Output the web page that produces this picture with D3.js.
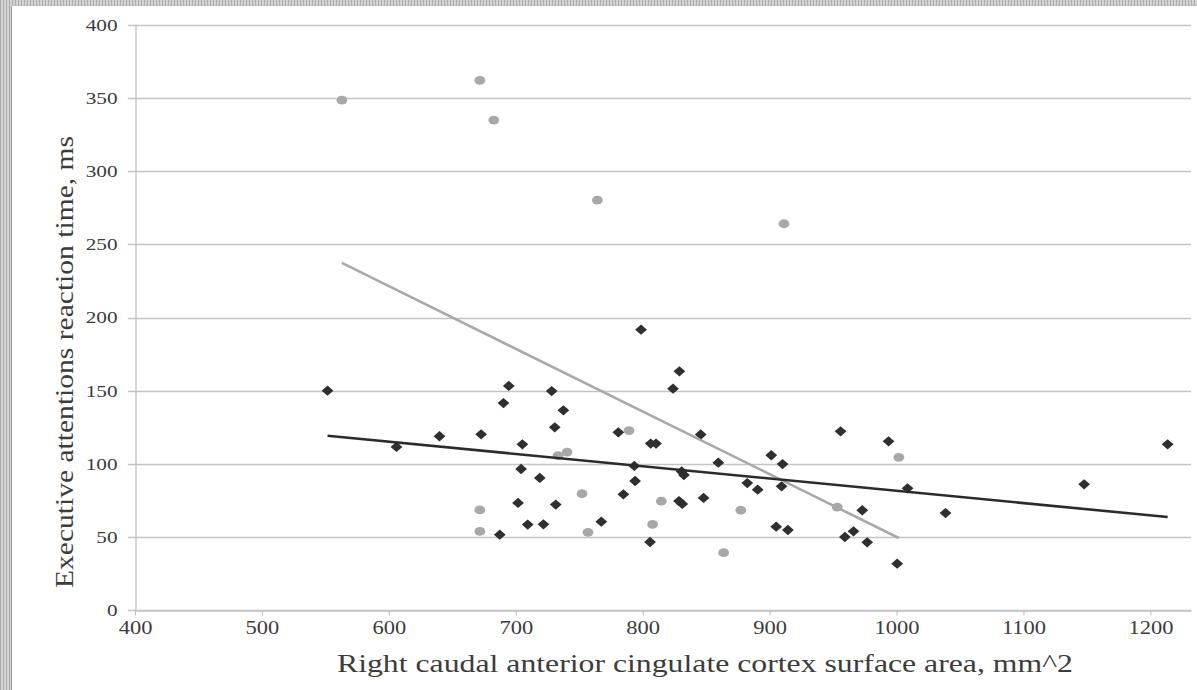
<!DOCTYPE html>
<html>
<head>
<meta charset="utf-8">
<script src="https://cdn.jsdelivr.net/npm/d3@7"></script>
<style>
  body { margin: 0; background: #fff; }
  text { font-family: "Liberation Serif", "Times New Roman", serif; fill: #3c3c3c; }
</style>
</head>
<body>
<div id="wrapper"></div>
<script>
// dark diamonds
const darkX = [551.7, 606, 639.9, 672.7, 687.4, 690.3, 694.5, 701.8, 704.2, 705.2, 709.4, 718.9, 721.8, 728.3, 730.7, 731.5, 737.5,
  767.4, 780.8, 784.8, 793.4, 794, 798.7, 805.8, 806.3, 810.5, 823.9, 828.6, 828.9, 830.7, 831.2, 832.5, 845.7, 848, 859.6,
  882.4, 890.6, 901.3, 905.2, 909.4, 910.2, 914.4, 955.9, 959.3, 966.1, 973, 976.9, 993.7, 1000.5, 1008.7, 1038.6, 1147.8, 1213.6];
const darkY = [150, 111.5, 118.8, 120.1, 51.5, 141.5, 153.2, 73.2, 96.4, 113.3, 58.4, 90.3, 58.6, 149.7, 124.9, 72.1, 136.5,
  60.4, 121.5, 79.1, 98.5, 88.2, 191.7, 46.5, 113.8, 113.8, 151.3, 74.5, 163.2, 94.7, 72.5, 92.3, 120, 76.6, 100.7,
  86.8, 82.3, 105.8, 57, 84.6, 99.8, 54.7, 122.2, 49.9, 53.8, 68.2, 46.3, 115.3, 31.7, 83.2, 66.3, 85.9, 113.3];
// light circles
const lightX = [563, 671.7, 671.7, 671.7, 682.7, 733.3, 740.4, 752.2, 756.9, 764.3, 789.2, 807.8, 814.7, 863.8, 877.3, 911.3, 953.3, 1001.8];
const lightY = [348.7, 362.2, 68.4, 53.8, 335, 105.5, 108, 79.5, 53.1, 280.3, 122.7, 58.5, 74.4, 39.2, 68.2, 264.1, 70.4, 104.4];
// trendlines: [intercept, slope]
const darkTrend = [165.5, -0.084];
const lightTrend = [478.7, -0.4287];

const xTicks = [400, 500, 600, 700, 800, 900, 1000, 1100, 1200];
const yTicks = [0, 50, 100, 150, 200, 250, 300, 350, 400];
const xTitle = "Right caudal anterior cingulate cortex surface area, mm^2";
const yTitle = "Executive attentions reaction time, ms";

const W = 1197, H = 690;
const svg = d3.select("#wrapper").append("svg").attr("width", W).attr("height", H);

// striped frame at left and top
const pat = svg.append("defs").append("pattern")
  .attr("id", "stripes").attr("width", 3).attr("height", 3).attr("patternUnits", "userSpaceOnUse");
pat.append("rect").attr("width", 3).attr("height", 3).attr("fill", "#d4d4d4");
pat.append("rect").attr("width", 1).attr("height", 3).attr("fill", "#a9a9a9");
svg.append("rect").attr("width", W).attr("height", H).attr("fill", "url(#stripes)");
svg.append("rect").attr("x", 12).attr("y", 6).attr("width", W - 12).attr("height", H - 6).attr("fill", "#fff");
svg.append("line").attr("x1", 11.5).attr("x2", 11.5).attr("y1", 6).attr("y2", H).attr("stroke", "#9a9a9a");
svg.append("line").attr("x1", 12).attr("x2", W).attr("y1", 5.5).attr("y2", 5.5).attr("stroke", "#bdbdbd");

const x = d3.scaleLinear().domain([400, 1232]).range([135, 1191]);
const y = d3.scaleLinear().domain([0, 400]).range([610, 25]);

// grid lines
svg.append("g").selectAll("line").data(yTicks).join("line")
  .attr("x1", 128).attr("x2", x.range()[1])
  .attr("y1", d => Math.round(y(d)) + 0.5).attr("y2", d => Math.round(y(d)) + 0.5)
  .attr("stroke", "#c4c4c4").attr("stroke-width", 1.3);

const serif = '"Liberation Serif", "Times New Roman", serif';

const yAxis = svg.append("g").attr("transform", "translate(135.5,0)")
  .call(d3.axisLeft(y).tickValues(yTicks).tickSize(0).tickPadding(18).tickFormat(d3.format("d")));
yAxis.attr("font-family", serif);
yAxis.select(".domain").attr("stroke", "#bdbdbd").attr("stroke-width", 1.2);
yAxis.selectAll("text").attr("font-size", 17).attr("fill", "#3c3c3c");

const xAxis = svg.append("g").attr("transform", "translate(0,610.5)")
  .call(d3.axisBottom(x).tickValues(xTicks).tickSize(5).tickPadding(6).tickSizeOuter(0).tickFormat(d3.format("d")));
xAxis.attr("font-family", serif);
xAxis.select(".domain").attr("stroke", "#c4c4c4").attr("stroke-width", 1.3);
xAxis.selectAll(".tick line").attr("stroke", "#bdbdbd");
xAxis.selectAll("text").attr("font-size", 18).attr("fill", "#3c3c3c");

// tick labels look wide in the original
svg.selectAll(".tick text").each(function () {
  const w = this.getComputedTextLength();
  d3.select(this).attr("textLength", w * 1.25).attr("lengthAdjust", "spacingAndGlyphs");
});

// wide diamond marker
const diamondWide = {
  draw(ctx, size) {
    const w = Math.sqrt(size) * 0.55, h = Math.sqrt(size) * 0.48;
    ctx.moveTo(0, -h); ctx.lineTo(w, 0); ctx.lineTo(0, h); ctx.lineTo(-w, 0); ctx.closePath();
  }
};

const dark = darkX.map((v, i) => ({ x: v, y: darkY[i] }));
const light = lightX.map((v, i) => ({ x: v, y: lightY[i] }));

svg.append("g").selectAll("path").data(dark).join("path")
  .attr("transform", d => `translate(${x(d.x)},${y(d.y)})`)
  .attr("d", d3.symbol().type(diamondWide).size(115))
  .attr("fill", "#2f2f2f");

svg.append("g").selectAll("ellipse").data(light).join("ellipse")
  .attr("cx", d => x(d.x)).attr("cy", d => y(d.y))
  .attr("rx", 5.4).attr("ry", 4.4)
  .attr("fill", "#a8a8a8");

// trendlines over each series' x-range
function trend(xs, coef) {
  const ext = d3.extent(xs);
  return ext.map(v => ({ x: v, y: coef[0] + coef[1] * v }));
}
const line = d3.line().x(d => x(d.x)).y(d => y(d.y));
svg.append("path").attr("d", line(trend(lightX, lightTrend)))
  .attr("fill", "none").attr("stroke", "#a9a9a9").attr("stroke-width", 2.6);
svg.append("path").attr("d", line(trend(darkX, darkTrend)))
  .attr("fill", "none").attr("stroke", "#2b2b2b").attr("stroke-width", 2.6);

// axis titles
svg.append("text")
  .attr("x", 705).attr("y", 672)
  .attr("text-anchor", "middle")
  .attr("font-size", 26)
  .attr("textLength", 736).attr("lengthAdjust", "spacingAndGlyphs")
  .text(xTitle);

svg.append("text")
  .attr("transform", "translate(73,362) rotate(-90)")
  .attr("text-anchor", "middle")
  .attr("font-size", 25)
  .attr("textLength", 452).attr("lengthAdjust", "spacingAndGlyphs")
  .text(yTitle);
</script>
</body>
</html>
